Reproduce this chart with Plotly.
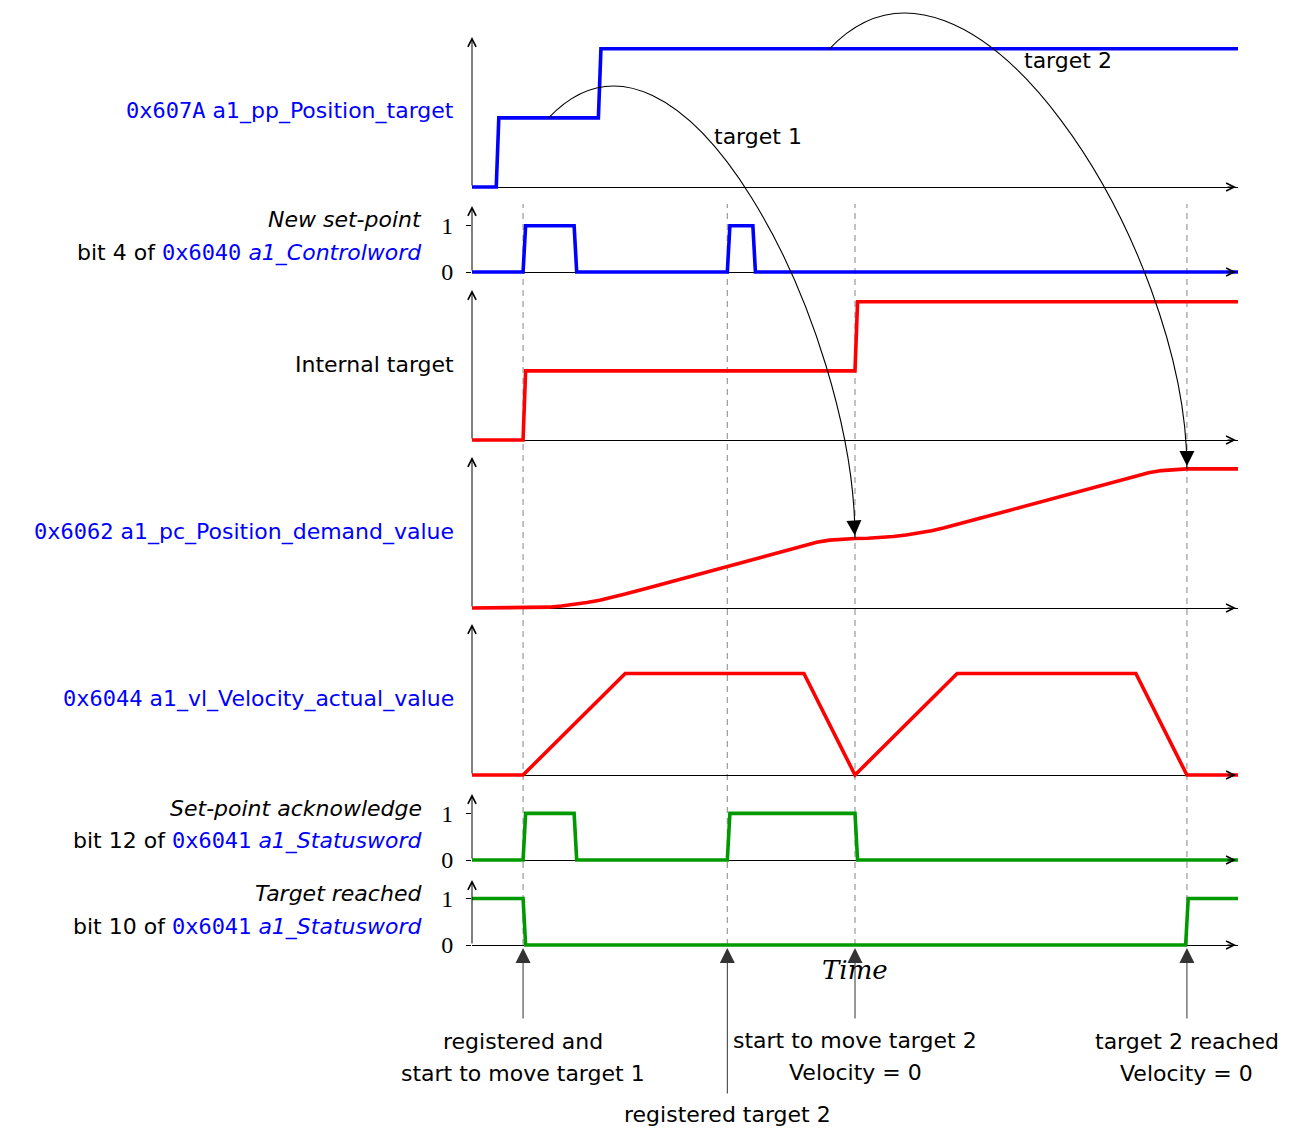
import plotly.graph_objects as go

W, H = 1292, 1131
H_VIEW = 1123               # effective rendered height of the figure frame
X0, X1 = 472, 1238          # pixel span of the time axis
T_MAX = 30

BLUE = '#0000ff'
RED = '#ff0000'
GREEN = '#009900'
SANS = 'DejaVu Sans'
MONO = 'DejaVu Sans Mono'
FS = 22

# data (time in arbitrary units, 0..30)
t_pos_target = [0, 0.95, 1.05, 4.95, 5.05, 30]
pos_target = [0, 0, 0.5, 0.5, 1.0, 1.0]

t_new_sp = [0, 2.0, 2.1, 4.0, 4.1, 10.0, 10.1, 11.0, 11.1, 30]
new_sp = [0, 0, 1, 1, 0, 0, 1, 1, 0, 0]

t_internal = [0, 2.0, 2.1, 15.0, 15.1, 30]
internal = [0, 0, 0.5, 0.5, 1.0, 1.0]

t_demand = [0, 2, 2.5, 3, 3.5, 4, 4.5, 5, 5.5, 6, 7, 8, 9, 10, 11, 12, 13,
            13.5, 14, 14.5, 15, 15.5, 16, 16.5, 17, 17.5, 18, 18.5, 19,
            20, 21, 22, 23, 24, 25, 26, 26.5, 27, 27.5, 28, 30]
demand = [0, 0, 0.002, 0.006, 0.014, 0.025, 0.039, 0.056, 0.077, 0.10, 0.15, 0.20, 0.25, 0.30, 0.35, 0.40, 0.45,
          0.472, 0.488, 0.497, 0.50, 0.502, 0.506, 0.514, 0.525, 0.539, 0.556, 0.577, 0.60,
          0.65, 0.70, 0.75, 0.80, 0.85, 0.90, 0.95, 0.972, 0.988, 0.997, 1.0, 1.0]

t_velocity = [0, 2, 6, 13, 15, 19, 26, 28, 30]
velocity = [0, 0, 0.73, 0.73, 0, 0.73, 0.73, 0, 0]

t_sp_ack = [0, 2.0, 2.1, 4.0, 4.1, 10.0, 10.1, 15.0, 15.1, 30]
sp_ack = [0, 0, 1, 1, 0, 0, 1, 1, 0, 0]

t_reached = [0, 2.0, 2.1, 27.95, 28.05, 30]
reached = [1, 1, 0, 0, 1, 1]

events = [2, 10, 15, 28]


def mono(s):
    return f'<span style="font-family:{MONO}">{s}</span>'


def blue(s):
    return f'<span style="color:{BLUE}">{s}</span>'


# panels: (x data, y data, colour, baseline px, top px, top value, binary, label lines)
panels = [
    (t_pos_target, pos_target, BLUE, 187, 35, 1.1, False,
     [blue(mono('0x607A') + ' a1_pp_Position_target')]),
    (t_new_sp, new_sp, BLUE, 272, 204, 1.47, True,
     ['<i>New set-point</i>', 'bit 4 of ' + blue(mono('0x6040') + ' <i>a1_Controlword</i>')]),
    (t_internal, internal, RED, 440, 288, 1.1, False, ['Internal target']),
    (t_demand, demand, RED, 608, 455, 1.1, False,
     [blue(mono('0x6062') + ' a1_pc_Position_demand_value')]),
    (t_velocity, velocity, RED, 775, 622, 1.1, False,
     [blue(mono('0x6044') + ' a1_vl_Velocity_actual_value')]),
    (t_sp_ack, sp_ack, GREEN, 860, 792, 1.46, True,
     ['<i>Set-point acknowledge</i>', 'bit 12 of ' + blue(mono('0x6041') + ' <i>a1_Statusword</i>')]),
    (t_reached, reached, GREEN, 945, 878, 1.44, True,
     ['<i>Target reached</i>', 'bit 10 of ' + blue(mono('0x6041') + ' <i>a1_Statusword</i>')]),
]

PAD = 5


def ypix(k, v):
    base, top, hi = panels[k][3], panels[k][4], panels[k][5]
    return base - v * (base - top) / hi


def xpaper(t):
    return (X0 + t / T_MAX * (X1 - X0)) / W


def ypaper(py):
    return 1 - py / H_VIEW


fig = go.Figure()
annotations = []
shapes = []
layout = {}

for k, (tt, yy, col, base, top, hi, binary, lines) in enumerate(panels):
    n = '' if k == 0 else str(k + 1)
    xk, yk = 'x' + n, 'y' + n
    ppu = (base - top) / hi
    fig.add_trace(go.Scatter(x=tt, y=yy, mode='lines', line=dict(color=col, width=3.6),
                             xaxis=xk, yaxis=yk, hoverinfo='skip'))
    layout['xaxis' + n] = dict(domain=[X0 / W, X1 / W], range=[0, T_MAX], visible=False, anchor=yk)
    ya = dict(domain=[ypaper(base + PAD), ypaper(top)], range=[-PAD / ppu, hi], anchor=xk,
              showgrid=False, showline=False, zeroline=True, zerolinecolor='black', zerolinewidth=1)
    if binary:
        ya.update(tickvals=[0, 1], ticktext=['0', '1'], ticks='outside', ticklen=5, tickcolor='black',
                  tickwidth=1, ticklabelstandoff=8,
                  tickfont=dict(family='Liberation Serif', size=24, color='black'))
    else:
        ya.update(showticklabels=False, ticks='')
    layout['yaxis' + n] = ya

    # y axis with arrow
    annotations.append(dict(xref=xk, yref=yk, x=0, y=hi, axref=xk, ayref=yk, ax=0, ay=0, text='',
                            showarrow=True, arrowhead=5, arrowsize=1.6, arrowwidth=1,
                            arrowcolor='black', standoff=2))
    # x axis arrow tip
    annotations.append(dict(xref=xk, yref=yk, x=T_MAX, y=0, ax=-12, ay=0, text='',
                            showarrow=True, arrowhead=5, arrowsize=1.6, arrowwidth=1,
                            arrowcolor='black', standoff=2))

    # left labels
    xr = 456 if not binary else 424
    centre = (base + top) / 2
    offs = [0] if len(lines) == 1 else [-18, 15]
    for txt, off in zip(lines, offs):
        annotations.append(dict(xref='paper', yref='paper', x=xr / W, y=ypaper(centre + off),
                                xanchor='right', yanchor='middle', text=txt, showarrow=False,
                                font=dict(family=SANS, size=FS, color='black')))

# dashed event markers
for t in events:
    shapes.append(dict(type='line', xref='x', yref='paper', x0=t, x1=t,
                       y0=ypaper(ypix(6, 0)), y1=ypaper(panels[1][4]), layer='below',
                       line=dict(color='#9a9a9a', width=1.2, dash='6px,5px')))


# curved arrows (target -> demand)
def curve(t0, v0, c1t, c1dy, t3, v3, c2dy):
    p0y = ypix(0, v0)
    p3y = ypix(3, v3)
    return (f'M {xpaper(t0)},{ypaper(p0y)} '
            f'C {xpaper(c1t)},{ypaper(p0y - c1dy)} {xpaper(t3)},{ypaper(p3y - c2dy)} '
            f'{xpaper(t3)},{ypaper(p3y)}')


shapes.append(dict(type='path', xref='paper', yref='paper', path=curve(3.0, 0.5, 8.2, 139, 15, 0.5, 209),
                   line=dict(color='black', width=1.1)))
shapes.append(dict(type='path', xref='paper', yref='paper', path=curve(14.0, 1.0, 19.5, 148, 28, 1.0, 222),
                   line=dict(color='black', width=1.1)))
for t, v, dx in [(15, 0.5, -1), (28, 1.0, 0)]:
    annotations.append(dict(xref='x4', yref='y4', x=t, y=v, ax=dx, ay=-16, text='', showarrow=True,
                            arrowhead=2, arrowsize=3, arrowwidth=1, arrowcolor='black', standoff=3))

annotations.append(dict(xref='x', yref='y', x=9.4, y=0.369, text='target 1', showarrow=False,
                        xanchor='left', yanchor='middle', font=dict(family=SANS, size=FS, color='black')))
annotations.append(dict(xref='x', yref='y', x=21.55, y=0.919, text='target 2', showarrow=False,
                        xanchor='left', yanchor='middle', font=dict(family=SANS, size=FS, color='black')))

# time label
annotations.append(dict(xref='x7 domain', yref='paper', x=0.5, y=ypaper(970), text='<i>Time</i>',
                        showarrow=False, yanchor='middle',
                        font=dict(family='DejaVu Serif', size=26, color='black')))

# event arrows and captions
event_arrow_len = [75, 150, 75, 75]
event_text = [
    [('registered and', 1041), ('start to move target 1', 1073)],
    [('registered target 2', 1114)],
    [('start to move target 2', 1040), ('Velocity = 0', 1072)],
    [('target 2 reached', 1041), ('Velocity = 0', 1073)],
]
for t, alen, texts in zip(events, event_arrow_len, event_text):
    annotations.append(dict(xref='x7', yref='y7', x=t, y=0, ax=0, ay=alen, text='', showarrow=True,
                            arrowhead=2, arrowsize=3, arrowwidth=1, arrowcolor='#333333', standoff=3))
    for txt, py in texts:
        annotations.append(dict(xref='x7', yref='paper', x=t, y=ypaper(py), text=txt, showarrow=False,
                                xanchor='center', yanchor='middle',
                                font=dict(family=SANS, size=FS, color='black')))

fig.update_layout(**layout)
fig.update_layout(width=W, height=H, autosize=False, margin=dict(l=0, r=0, t=0, b=0), showlegend=False,
                  paper_bgcolor='white', plot_bgcolor='rgba(0,0,0,0)',
                  font=dict(family=SANS, size=FS, color='black'),
                  annotations=annotations, shapes=shapes)

fig.write_html('out.html', config={'responsive': False, 'displayModeBar': False},
               post_script="document.body.style.margin='0';document.body.style.overflow='hidden';")
